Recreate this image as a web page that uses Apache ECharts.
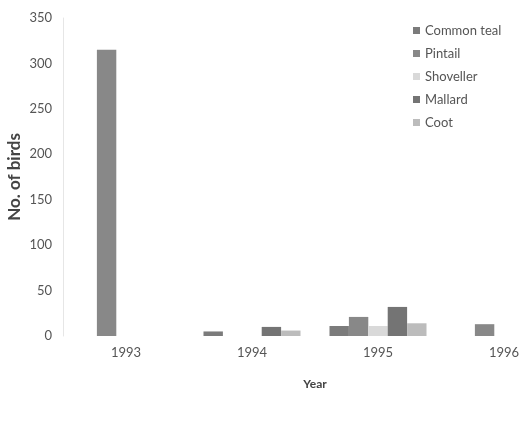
<!DOCTYPE html>
<html>
<head>
<meta charset="utf-8">
<script src="https://cdn.jsdelivr.net/npm/echarts@6/dist/echarts.min.js"></script>
<style>
  html, body { margin: 0; padding: 0; background: #fff; }
  #chart { width: 531px; height: 424px; }
</style>
</head>
<body>
<div id="chart"></div>
<script>
// Wintering waterbird counts per year
const years = ['1993', '1994', '1995', '1996'];
const commonTeal = [0, 5, 11, 0];
const pintail = [315, 0, 21, 13];
const shoveller = [0, 0, 11, 0];
const mallard = [0, 10, 32, 0];
const coot = [0, 6, 14, 0];
const yTicks = [0, 50, 100, 150, 200, 250, 300, 350];

const font = 'Lato, "Open Sans", sans-serif';
const seriesDefs = [
  { name: 'Common teal', data: commonTeal, color: '#7b7b7b' },
  { name: 'Pintail', data: pintail, color: '#888888' },
  { name: 'Shoveller', data: shoveller, color: '#d9d9d9' },
  { name: 'Mallard', data: mallard, color: '#747474' },
  { name: 'Coot', data: coot, color: '#bcbcbc' }
];

const chart = echarts.init(document.getElementById('chart'));
chart.setOption({
  backgroundColor: '#fff',
  animation: false,
  textStyle: { fontFamily: font },
  legend: {
    orient: 'vertical',
    left: 408,
    top: 19,
    icon: 'rect',
    itemWidth: 7,
    itemHeight: 7,
    itemGap: 10,
    textStyle: { fontFamily: font, fontSize: 13, color: '#555' },
    data: seriesDefs.map(s => s.name)
  },
  // the plot runs past the right edge, so the last year is only half shown
  grid: {
    left: 63, width: 504, top: 18, bottom: 88,
    containLabel: false,
    outerBoundsMode: 'none'
  },
  xAxis: {
    type: 'category',
    data: years,
    name: 'Year',
    nameLocation: 'middle',
    nameGap: 42,
    nameTextStyle: { fontFamily: font, fontSize: 12, fontWeight: 'bold', color: '#444' },
    axisLine: { show: false },
    axisTick: { show: false },
    axisLabel: { fontFamily: font, fontSize: 13, color: '#555', margin: 10 }
  },
  yAxis: {
    type: 'value',
    min: 0,
    max: yTicks[yTicks.length - 1],
    interval: yTicks[1] - yTicks[0],
    name: 'No. of birds',
    nameLocation: 'middle',
    nameGap: 40,
    nameMoveOverlap: false,
    nameTextStyle: { fontFamily: font, fontSize: 17, fontWeight: 'bold', color: '#444' },
    axisLine: { show: true, lineStyle: { color: '#e6e6e6', width: 1 } },
    axisTick: { show: false },
    splitLine: { show: false },
    axisLabel: { fontFamily: font, fontSize: 13, color: '#555', margin: 11 }
  },
  series: seriesDefs.map(s => ({
    type: 'bar',
    name: s.name,
    data: s.data,
    barGap: '0%',
    barCategoryGap: '23%',
    itemStyle: { color: s.color }
  }))
});
</script>
</body>
</html>
